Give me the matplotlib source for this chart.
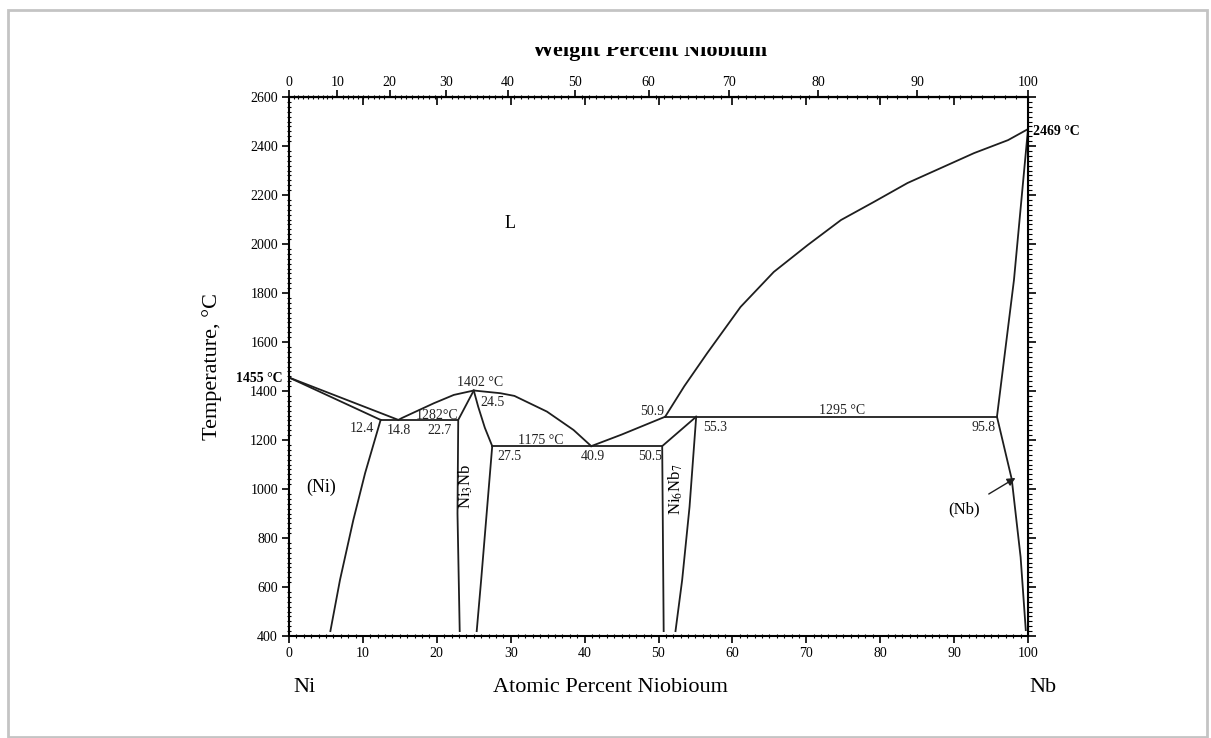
import matplotlib
matplotlib.use("Agg")
import matplotlib.pyplot as plt
import numpy as np
from matplotlib.patches import Rectangle
from matplotlib.transforms import Bbox, TransformedBbox
from matplotlib.ticker import MultipleLocator, FixedLocator, NullFormatter

plt.rcParams['font.family'] = ['Liberation Serif', 'DejaVu Serif']
plt.rcParams['mathtext.fontset'] = 'stix'

# atomic masses for the weight percent scale
M_NI = 58.693
M_NB = 92.906

# phase boundaries, (at% Nb, temperature in C)
ni_liq_x = [0, 14.8]
ni_liq_t = [1455, 1282]
ni_sol_x = [0, 12.4]
ni_sol_t = [1455, 1282]
ni_solvus_x = [12.4, 10.3, 8.7, 6.9, 5.6]
ni_solvus_t = [1282, 1065, 873, 629, 420]

dome_x = [14.8, 15.3, 16.8, 19.6, 22.3, 25.0, 28.6, 30.5, 34.9, 38.5, 40.9]
dome_t = [1282, 1290, 1311, 1350, 1384, 1402, 1391, 1380, 1316, 1241, 1175]

ni3nb_left_x = [23.1, 22.8, 22.9, 25.0]
ni3nb_left_t = [420, 900, 1282, 1402]
ni3nb_right_x = [25.0, 25.6, 26.5, 27.5, 26.0, 25.4]
ni3nb_right_t = [1402, 1336, 1250, 1175, 628, 420]

liq2_x = [40.9, 45.0, 50.9]
liq2_t = [1175, 1222, 1295]

ni6nb7_left_x = [50.7, 50.5, 55.1]
ni6nb7_left_t = [420, 1175, 1295]
ni6nb7_right_x = [55.1, 54.2, 53.2, 52.3]
ni6nb7_right_t = [1295, 927, 628, 420]

liq3_x = [50.9, 53.5, 56.6, 61.1, 65.6, 70.2, 74.7, 79.1, 83.7, 88.2, 92.7, 97.3, 100]
liq3_t = [1295, 1420, 1555, 1743, 1886, 1996, 2098, 2171, 2249, 2310, 2371, 2424, 2469]

nb_sol_x = [95.8, 98.1, 100]
nb_sol_t = [1295, 1853, 2469]
nb_solvus_x = [95.8, 97.8, 99.0, 99.7]
nb_solvus_t = [1295, 1040, 722, 424]

# invariant lines: (x start, x end, temperature)
invariants = [(12.4, 22.9, 1282), (27.5, 50.5, 1175), (50.9, 95.8, 1295)]

# small composition labels: (text, x, T)
comp_labels = [("12.4", 9.9, 1245), ("14.8", 14.8, 1237), ("22.7", 20.4, 1237),
               ("1282\u00b0C", 20.1, 1300), ("1402 \u00b0C", 25.8, 1433), ("24.5", 27.5, 1355),
               ("1175 \u00b0C", 34.1, 1200), ("27.5", 29.8, 1131), ("40.9", 41.1, 1131),
               ("50.5", 48.8, 1131), ("50.9", 49.2, 1318), ("55.3", 57.7, 1253),
               ("1295 \u00b0C", 74.9, 1322), ("95.8", 94.0, 1253)]

at_ticks = np.arange(0, 101, 10)
wt_ticks = np.arange(0, 101, 10)
t_ticks = np.arange(400, 2601, 200)


def at_to_wt(a):
    a = np.asarray(a, dtype=float)
    with np.errstate(divide='ignore', invalid='ignore'):
        return 100 * a * M_NB / (a * M_NB + (100 - a) * M_NI)


def wt_to_at(w):
    w = np.asarray(w, dtype=float)
    with np.errstate(divide='ignore', invalid='ignore'):
        return 100 * (w / M_NB) / (w / M_NB + (100 - w) / M_NI)


W, H = 1211, 738
fig = plt.figure(figsize=(W / 100, H / 100), dpi=100)
ax = fig.add_axes([289 / W, 1 - 636 / H, (1028 - 289) / W, (636 - 97) / H])

lc = '#1e1e1e'
lw = 1.3
for xs, ts in [(ni_liq_x, ni_liq_t), (ni_sol_x, ni_sol_t), (ni_solvus_x, ni_solvus_t),
               (dome_x, dome_t), (ni3nb_left_x, ni3nb_left_t), (ni3nb_right_x, ni3nb_right_t),
               (liq2_x, liq2_t), (ni6nb7_left_x, ni6nb7_left_t), (ni6nb7_right_x, ni6nb7_right_t),
               (liq3_x, liq3_t), (nb_sol_x, nb_sol_t), (nb_solvus_x, nb_solvus_t)]:
    ax.plot(xs, ts, color=lc, lw=lw)
for x0, x1, t in invariants:
    ax.plot([x0, x1], [t, t], color=lc, lw=lw)

for s, x, t in comp_labels:
    ax.text(x, t, s, ha='center', va='center', fontsize=10, color='#222222')

ax.text(29.9, 2082, "L", ha='center', va='center', fontsize=13)
ax.text(4.3, 1008, "(Ni)", ha='center', va='center', fontsize=13)
ax.text(23.9, 1010, "Ni$_3$Nb", ha='center', va='center', fontsize=12, rotation=90)
ax.text(52.4, 1000, "Ni$_6$Nb$_7$", ha='center', va='center', fontsize=12, rotation=90)
ax.annotate("(Nb)", xy=(98.3, 1045), xytext=(91.3, 918), ha='center', va='center',
            fontsize=12, arrowprops=dict(arrowstyle='-|>', color=lc, lw=1.0,
                                         shrinkA=6, shrinkB=0, mutation_scale=12))
ax.text(-0.8, 1453, "1455 \u00b0C", ha='right', va='center', fontsize=10,
        fontweight='bold', clip_on=False)
ax.text(100.7, 2461, "2469 \u00b0C", ha='left', va='center', fontsize=10,
        fontweight='bold', clip_on=False)

ax.set_xlim(0, 100)
ax.set_ylim(400, 2600)
ax.set_xticks(at_ticks)
ax.set_yticks(t_ticks)
ax.xaxis.set_minor_locator(MultipleLocator(1))
ax.yaxis.set_minor_locator(MultipleLocator(20))
ax.tick_params(axis='both', which='major', direction='out', length=5, width=1.2,
               labelsize=10, pad=3)
ax.tick_params(axis='both', which='minor', direction='inout', length=3, width=0.8)
for sp in ax.spines.values():
    sp.set_linewidth(1.5)

# atomic percent ticks mirrored on top, pointing inward
top_at = ax.secondary_xaxis('top')
top_at.set_xticks(at_ticks)
top_at.xaxis.set_major_formatter(NullFormatter())
top_at.tick_params(direction='in', length=6, width=1.2)

# weight percent scale on top
top_wt = ax.secondary_xaxis('top', functions=(at_to_wt, wt_to_at))
top_wt.xaxis.set_major_locator(FixedLocator(wt_ticks))
top_wt.xaxis.set_minor_locator(FixedLocator(np.arange(0, 101, 1)))
top_wt.tick_params(which='major', direction='out', length=5, width=1.2, labelsize=10, pad=1)
top_wt.tick_params(which='minor', direction='inout', length=3, width=0.8)
top_wt.spines['top'].set_linewidth(1.5)

right = ax.secondary_yaxis('right')
right.set_yticks(t_ticks)
right.yaxis.set_minor_locator(MultipleLocator(20))
right.yaxis.set_major_formatter(NullFormatter())
right.tick_params(which='major', direction='out', length=6, width=1.2)
right.tick_params(which='minor', direction='out', length=3, width=0.8)

ax.set_ylabel("Temperature, \u00b0C", fontsize=16, labelpad=20)
fig.text(610 / W, 1 - 687 / H, "Atomic Percent Niobioum", ha='center', va='center', fontsize=16)
fig.text(304 / W, 1 - 687 / H, "Ni", ha='center', va='center', fontsize=16)
fig.text(1043 / W, 1 - 687 / H, "Nb", ha='center', va='center', fontsize=16)

# top label only half visible in the scan
wlab = fig.text(650 / W, 1 - 56 / H, "Weight Percent Niobium", ha='center', va='baseline',
                fontsize=16, fontweight='bold')
wlab.set_clip_box(TransformedBbox(Bbox([[0, 0], [1, 1 - 47 / H]]), fig.transFigure))
wlab.set_clip_on(True)

# scan frame
fig.patches.append(Rectangle((8 / W, 1 - 737 / H), (1207 - 8) / W, (737 - 10) / H,
                             transform=fig.transFigure, fill=False,
                             edgecolor='#c4c4c4', lw=2.0))

fig.savefig("out.png", dpi=100)
